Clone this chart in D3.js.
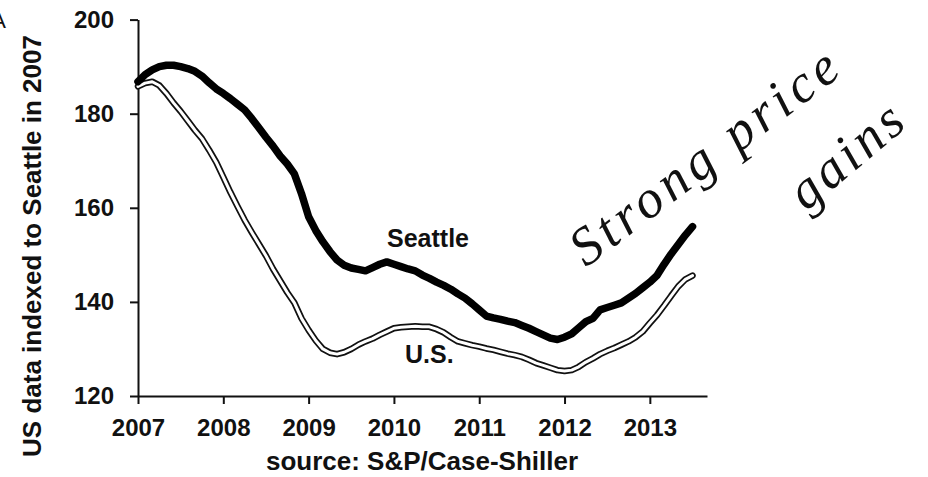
<!DOCTYPE html>
<html>
<head>
<meta charset="utf-8">
<script src="https://cdn.jsdelivr.net/npm/d3@7"></script>
<style>
  body { margin: 0; background: #fff; }
  svg { display: block; font-family: "Liberation Sans", Arial, sans-serif; }
</style>
</head>
<body>
<div id="chart"></div>
<script>
// monthly index values, Jan 2007 .. Jul 2013
var startYear = 2007;
var seattle = [
  186.8, 188.3, 189.3, 190.0, 190.3, 190.3, 190.0, 189.6, 189.0, 188.0, 186.6, 185.3,
  184.3, 183.2, 182.0, 180.8, 179.0, 177.0, 175.0, 173.1, 171.0, 169.3, 167.2, 163.0,
  158.1, 155.2, 152.8, 150.7, 148.9, 147.8, 147.2, 146.9, 146.6, 147.3, 148.0, 148.5,
  148.0, 147.5, 147.0, 146.6, 145.7, 145.0, 144.2, 143.5, 142.7, 141.7, 140.8, 139.6,
  138.3, 137.0, 136.6, 136.3, 135.9, 135.6, 135.0, 134.4, 133.7, 133.0, 132.3, 132.0,
  132.5, 133.2, 134.5, 135.8, 136.5, 138.3, 138.8, 139.3, 139.8, 140.8, 141.8, 143.0,
  144.2, 145.6, 148.0, 150.2, 152.2, 154.2, 156.0
];
var us = [
  185.8, 186.5, 186.8, 186.0, 184.3, 182.3, 180.5, 178.5, 176.5, 174.7, 172.3, 169.7,
  166.5, 163.3, 160.3, 157.4, 154.8, 152.3, 149.8, 147.0, 144.5, 142.0, 139.8, 136.5,
  134.0, 131.8, 130.0, 129.2, 128.9, 129.3, 130.0, 130.9, 131.6, 132.2, 133.0, 133.7,
  134.4, 134.6, 134.7, 134.8, 134.7, 134.7, 134.2, 133.5, 132.5, 131.6, 131.2, 130.8,
  130.5, 130.1, 129.8, 129.4, 129.0, 128.7, 128.3, 127.7, 127.0, 126.5, 126.0, 125.5,
  125.3, 125.5, 126.2, 127.2, 128.0, 128.9, 129.6, 130.2, 130.9, 131.6, 132.5, 133.7,
  135.5, 137.2, 139.2, 141.3, 143.3, 144.8, 145.6
];
var yearTicks = [2007, 2008, 2009, 2010, 2011, 2012, 2013];
var valueTicks = [120, 140, 160, 180, 200];

var width = 928, height = 477;
var svg = d3.select('#chart').append('svg')
    .attr('width', width)
    .attr('height', height)
    .attr('viewBox', [0, 0, width, height]);

var x = d3.scaleLinear().domain([2007, 2013.67]).range([138, 707]);
var y = d3.scaleLinear().domain([120, 200]).range([396, 19.6]);

function toPoints(arr) {
    return arr.map(function (v, i) { return [startYear + i / 12, v]; });
}

var line = d3.line()
    .x(function (d) { return x(d[0]); })
    .y(function (d) { return y(d[1]); });

// axes
var yAxis = svg.append('g')
    .attr('transform', 'translate(' + x(2007) + ',0)')
    .call(d3.axisLeft(y).tickValues(valueTicks).tickSize(8).tickSizeOuter(0).tickPadding(16));
var xAxis = svg.append('g')
    .attr('transform', 'translate(0,' + y(120) + ')')
    .call(d3.axisBottom(x).tickValues(yearTicks).tickFormat(d3.format('d')).tickSize(8).tickSizeOuter(0).tickPadding(15));

svg.selectAll('.domain, .tick line')
    .attr('stroke', '#111')
    .attr('stroke-width', 2);
svg.selectAll('.tick text')
    .attr('fill', '#111')
    .attr('font-size', '24px')
    .attr('font-weight', 'bold');

// U.S. - hollow double line
svg.append('path')
    .datum(toPoints(us))
    .attr('d', line)
    .attr('fill', 'none')
    .attr('stroke', '#111')
    .attr('stroke-width', 6.5)
    .attr('stroke-linejoin', 'round')
    .attr('stroke-linecap', 'round');
svg.append('path')
    .datum(toPoints(us))
    .attr('d', line)
    .attr('fill', 'none')
    .attr('stroke', '#fff')
    .attr('stroke-width', 3)
    .attr('stroke-linejoin', 'round')
    .attr('stroke-linecap', 'round');

// Seattle - thick line
svg.append('path')
    .datum(toPoints(seattle))
    .attr('d', line)
    .attr('fill', 'none')
    .attr('stroke', '#000')
    .attr('stroke-width', 7.5)
    .attr('stroke-linejoin', 'round')
    .attr('stroke-linecap', 'round');

// labels
svg.append('text')
    .attr('x', 387).attr('y', 247)
    .attr('font-size', '25px').attr('font-weight', 'bold').attr('fill', '#111')
    .text('Seattle');
svg.append('text')
    .attr('x', 405).attr('y', 363)
    .attr('font-size', '25px').attr('font-weight', 'bold').attr('fill', '#111')
    .text('U.S.');

svg.append('text')
    .attr('transform', 'translate(41,246) rotate(-90)')
    .attr('text-anchor', 'middle')
    .attr('font-size', '26px').attr('font-weight', 'bold').attr('fill', '#111')
    .text('US data indexed to Seattle in 2007');

svg.append('text')
    .attr('x', 422).attr('y', 470)
    .attr('text-anchor', 'middle')
    .attr('font-size', '26px').attr('font-weight', 'bold').attr('fill', '#111')
    .text('source: S&P/Case-Shiller');

// cut-off panel letter at top-left
svg.append('text')
    .attr('x', 6).attr('y', 28)
    .attr('text-anchor', 'end')
    .attr('font-size', '22px').attr('fill', '#111')
    .text('A');

// handwritten note
var hand = svg.append('g')
    .attr('font-family', '"Liberation Serif", serif')
    .attr('font-style', 'italic')
    .attr('fill', '#111');
hand.append('text')
    .attr('transform', 'translate(586,268) rotate(-37)')
    .attr('font-size', '54px')
    .attr('letter-spacing', '5px')
    .text('Strong price');
hand.append('text')
    .attr('transform', 'translate(806,212) rotate(-40)')
    .attr('font-size', '54px')
    .attr('letter-spacing', '4px')
    .text('gains');
</script>
</body>
</html>
